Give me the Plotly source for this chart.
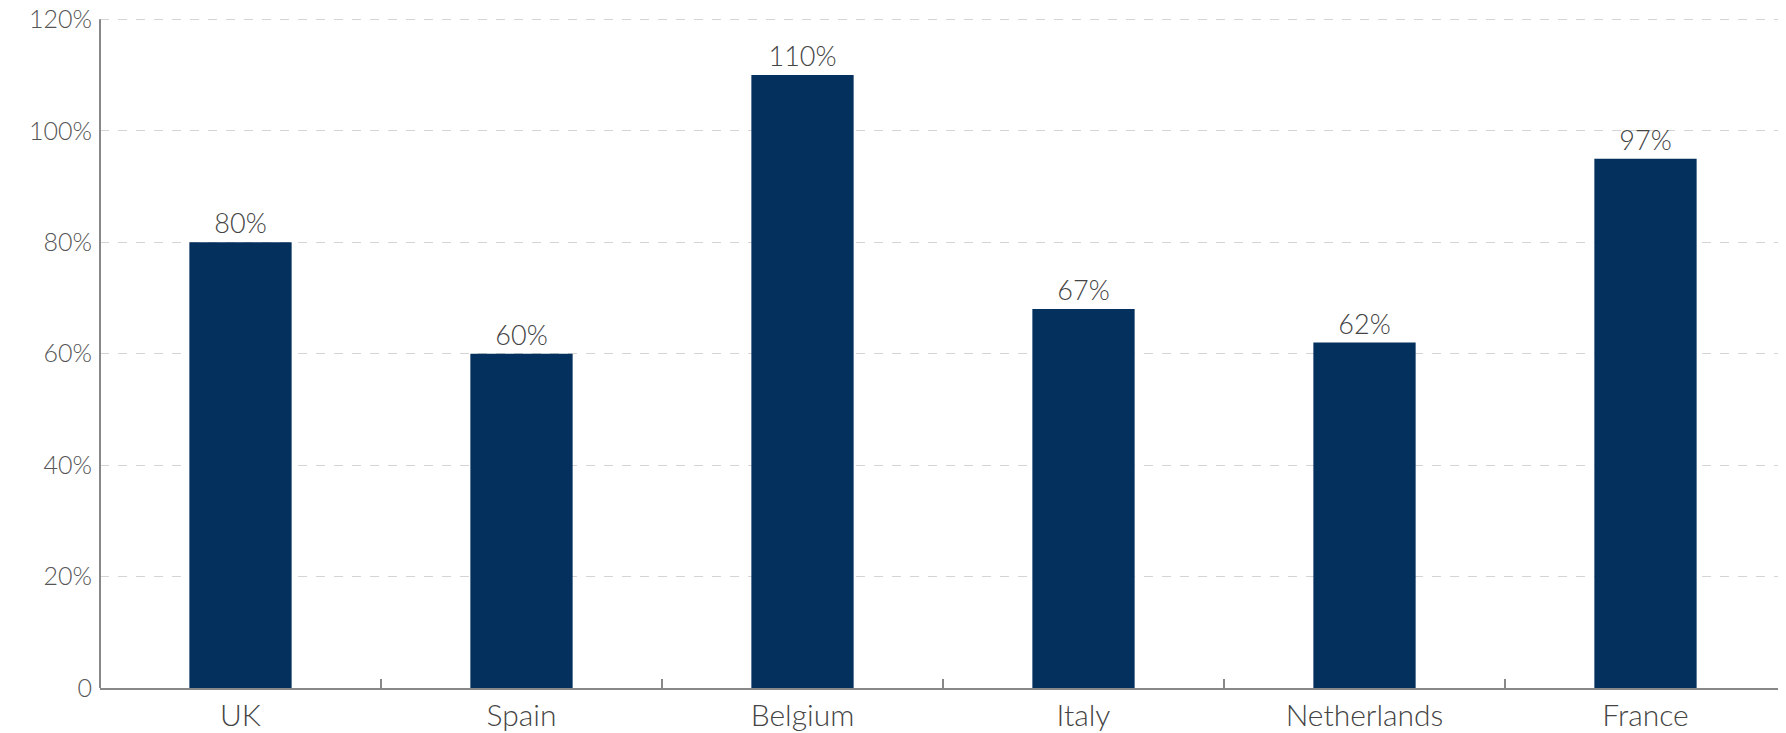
import plotly.graph_objects as go

countries = ["UK", "Spain", "Belgium", "Italy", "Netherlands", "France"]
values = [80, 60, 110, 68, 62, 95]
value_labels = ["80%", "60%", "110%", "67%", "62%", "97%"]
y_tickvals = [0, 20, 40, 60, 80, 100, 120]
y_ticktext = ["0", "20%", "40%", "60%", "80%", "100%", "120%"]

FONT = "Lato"
fig = go.Figure(
    go.Bar(
        x=countries,
        y=values,
        text=value_labels,
        textposition="outside",
        textfont=dict(family=FONT, size=27, color="#444444", weight=300),
        marker=dict(color="#04305E", line=dict(width=0)),
        cliponaxis=False,
    )
)

fig.update_layout(
    width=1778,
    height=725,
    margin=dict(l=92, r=0, t=3, b=45, autoexpand=False),
    plot_bgcolor="white",
    paper_bgcolor="white",
    bargap=0.636,
    showlegend=False,
    font=dict(family=FONT, color="#555555"),
)
fig.update_xaxes(
    showline=True,
    linecolor="#888888",
    linewidth=2,
    ticks="inside",
    tickson="boundaries",
    ticklen=9,
    tickcolor="#888888",
    tickwidth=1.5,
    tickfont=dict(family=FONT, size=30, color="#444444", weight=300),
    ticklabeloverflow="allow",
    showgrid=False,
    automargin=False,
)
fig.update_yaxes(
    range=[0, 121.5],
    tickvals=y_tickvals,
    ticktext=y_ticktext,
    showline=False,
    ticks="",
    ticklabelstandoff=7,
    ticklabeloverflow="allow",
    tickfont=dict(family=FONT, size=25, color="#555555", weight=300),
    showgrid=True,
    gridcolor="#d4d4d4",
    gridwidth=1,
    griddash="dash",
    zeroline=False,
    automargin=False,
)
# vertical axis line spanning only 0..120 as in the reference
fig.add_shape(
    type="line", xref="paper", yref="y",
    x0=0, x1=0, y0=0, y1=y_tickvals[-1],
    line=dict(color="#888888", width=2),
)

fig.write_html("out.html")
